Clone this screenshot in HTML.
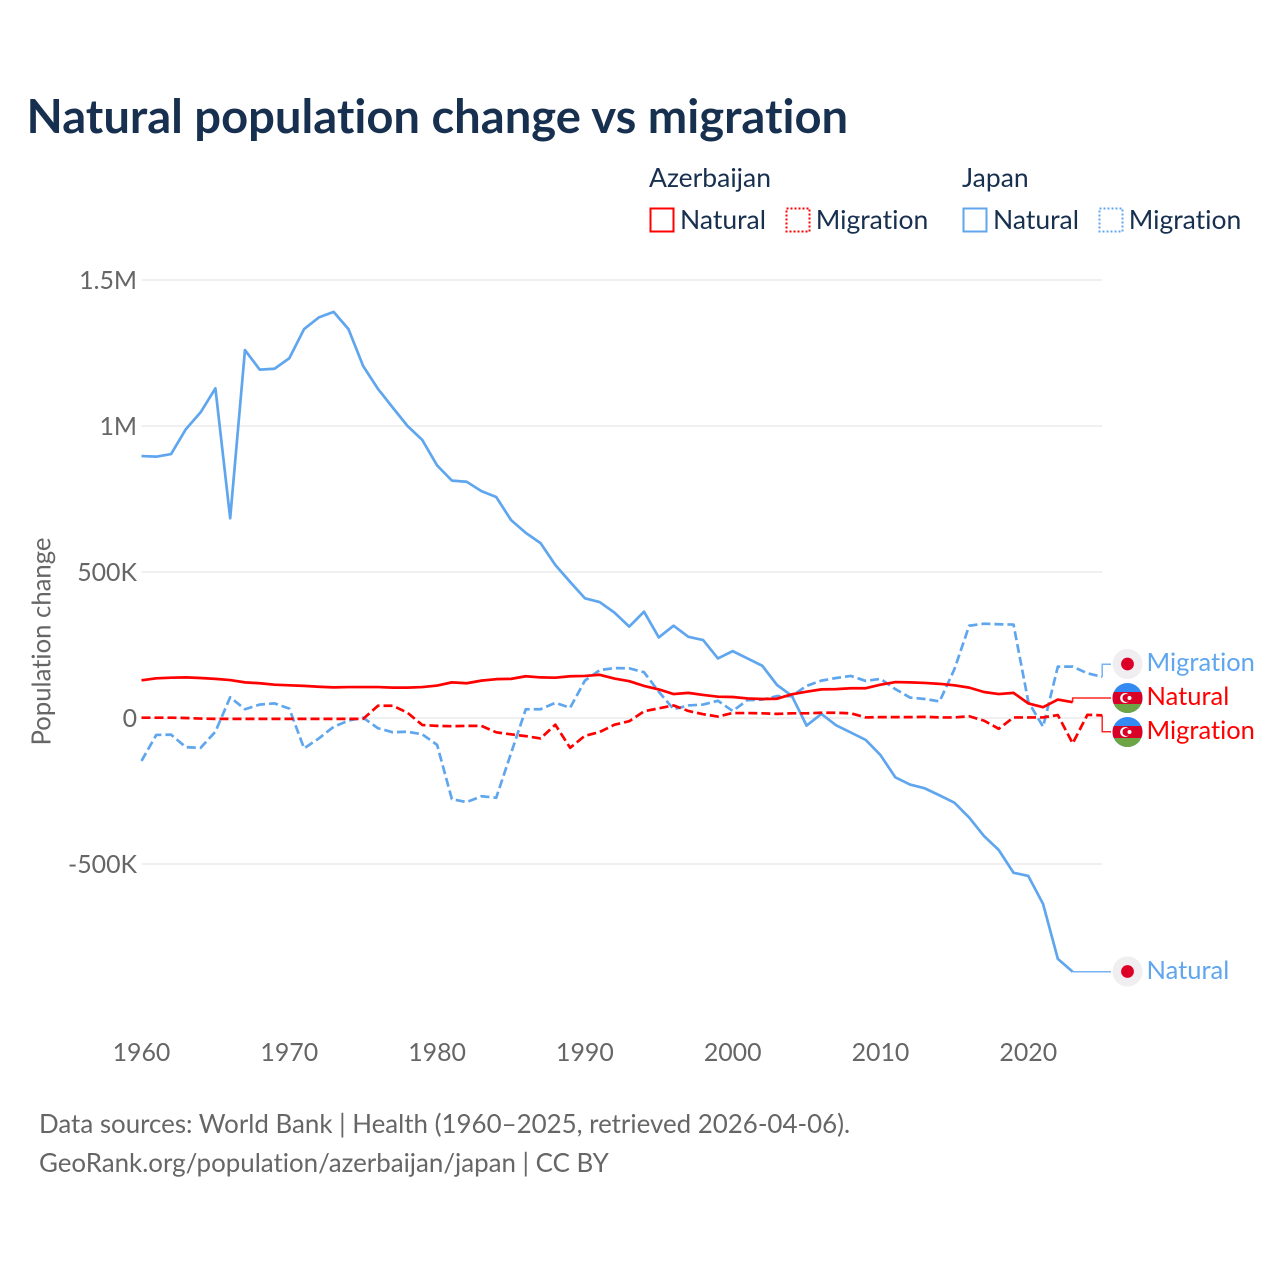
<!DOCTYPE html>
<html lang="en">
<head>
<meta charset="utf-8">
<title>Natural population change vs migration</title>
<style>
  html,body{margin:0;padding:0;background:#fff;}
  svg{display:block;}
  text{font-family:"Lato","Carlito","Liberation Sans",sans-serif;font-variant-ligatures:none;}
</style>
</head>
<body>
<svg id="chart" xmlns="http://www.w3.org/2000/svg" width="1280" height="1280" viewBox="0 0 1280 1280">
  <defs>
    <clipPath id="flag-clip"><circle cx="0" cy="0" r="15"/></clipPath>
  </defs>
  <rect x="0" y="0" width="1280" height="1280" fill="#ffffff"/>
  <text x="26.5" y="133" font-size="47.15" font-weight="700" fill="#18304f">Natural population change vs migration</text>

  <g font-size="26.5" fill="#18304f">
    <text x="649" y="187">Azerbaijan</text>
    <text x="962" y="187">Japan</text>
    <rect x="650.5" y="208.5" width="23" height="23" fill="none" stroke="#ff0000" stroke-width="2"/>
    <text x="680" y="229">Natural</text>
    <rect x="786.5" y="208.5" width="23" height="23" fill="none" stroke="#ff0000" stroke-width="2" stroke-dasharray="2 2"/>
    <text x="815.7" y="229">Migration</text>
    <rect x="963.5" y="208.5" width="23" height="23" fill="none" stroke="#5fa6ee" stroke-width="2"/>
    <text x="993" y="229">Natural</text>
    <rect x="1099.5" y="208.5" width="23" height="23" fill="none" stroke="#5fa6ee" stroke-width="2" stroke-dasharray="2 2"/>
    <text x="1128.7" y="229">Migration</text>
  </g>

  <text transform="translate(50.5,641.5) rotate(-90)" text-anchor="middle" font-size="25.7" fill="#666666">Population change</text>

  <g id="grid"></g>
  <g id="yticks" font-size="24.9" fill="#666666" text-anchor="end"></g>
  <g id="xticks" font-size="24.9" fill="#666666" text-anchor="middle"></g>
  <g id="connectors"></g>
  <g id="series"></g>

  <g transform="translate(1127.5,664)">
    <circle r="15" fill="#f0eef0"/><circle r="6.4" fill="#dc0027"/>
  </g>
  <g transform="translate(1127.5,698)" clip-path="url(#flag-clip)">
    <rect x="-15" y="-15" width="30" height="30" fill="#338af3"/>
    <rect x="-15" y="-6" width="30" height="12" fill="#d80027"/>
    <rect x="-15" y="6" width="30" height="9" fill="#6da544"/>
    <circle cx="-2.4" r="5" fill="#fff"/><circle cx="-1" r="4" fill="#d80027"/><circle cx="2" r="2" fill="#fff"/>
  </g>
  <g transform="translate(1127.5,732)" clip-path="url(#flag-clip)">
    <rect x="-15" y="-15" width="30" height="30" fill="#338af3"/>
    <rect x="-15" y="-6" width="30" height="12" fill="#d80027"/>
    <rect x="-15" y="6" width="30" height="9" fill="#6da544"/>
    <circle cx="-2.4" r="5" fill="#fff"/><circle cx="-1" r="4" fill="#d80027"/><circle cx="2" r="2" fill="#fff"/>
  </g>
  <g transform="translate(1127.5,971.5)">
    <circle r="15" fill="#f0eef0"/><circle r="6.4" fill="#dc0027"/>
  </g>

  <g font-size="25.5">
    <text x="1146.5" y="671" fill="#5fa6ee">Migration</text>
    <text x="1146.5" y="705" fill="#ff0000">Natural</text>
    <text x="1146.5" y="739" fill="#ff0000">Migration</text>
    <text x="1146.5" y="979" fill="#5fa6ee">Natural</text>
  </g>

  <g font-size="25.9" fill="#666666">
    <text x="39" y="1133">Data sources: World Bank | Health (1960–2025, retrieved 2026-04-06).</text>
    <text x="39" y="1172">GeoRank.org/population/azerbaijan/japan | CC BY</text>
  </g>
</svg>
<script>
// Values in thousands of people; the first year is 1960.
const startYear = 1960;
const yTickValues = [1500, 1000, 500, 0, -500];
const yTickLabels = ["1.5M", "1M", "500K", "0", "-500K"];
const xTickValues = [1960, 1970, 1980, 1990, 2000, 2010, 2020];
const japanNatural = [897,895,904,989,1047,1129,684,1260,1193,1196,1232,1332,1372,1391,1332,1205,1127,1063,1000,952,865,813,809,777,757,678,634,599,524,466,410,397,361,313,364,276,316,278,267,204,229,204,179,113,76,-26,14,-25,-50,-75,-127,-203,-228,-241,-265,-290,-341,-404,-452,-530,-541,-637,-825,-869];
const japanMigration = [-147,-58,-57,-100,-102,-47,71,30,46,50,32,-104,-70,-30,-9,1,-35,-49,-47,-56,-92,-278,-288,-268,-273,-121,30,30,52,35,128,164,171,170,157,90,30,43,46,59,24,61,63,75,75,110,128,137,144,127,134,99,70,65,57,167,316,323,321,320,56,-30,176,176,153,141];
const azerbaijanNatural = [129,136,138,139,137,134,130,122,119,114,112,110,107,105,106,106,106,104,104,106,111,122,119,128,133,134,143,139,138,143,144,148,135,126,110,98,82,86,79,73,72,67,65,66,81,90,98,99,102,102,114,123,122,120,117,112,104,89,82,86,50,37,63,54];
const azerbaijanMigration = [1,1,1,0,-2,-3,-3,-3,-3,-3,-3,-3,-3,-3,-3,-3,42,42,18,-24,-27,-28,-27,-27,-49,-56,-62,-70,-23,-102,-61,-48,-23,-11,23,33,43,24,13,5,17,17,16,14,16,16,18,18,16,2,3,3,3,4,2,2,6,-9,-37,2,2,2,10,-87,11,9];

const NS = "http://www.w3.org/2000/svg";
const BLUE = "#5fa6ee";
const RED = "#ff0000";
const xScale = function (year) { return 141.5 + (year - 1960) * 14.78; };
const yScale = function (v) { return 718 - v * 0.292; };

function make(tag, parent) {
  const el = document.createElementNS(NS, tag);
  document.getElementById(parent).appendChild(el);
  return el;
}

yTickValues.forEach(function (v, i) {
  const line = make("line", "grid");
  
  
  line.setAttribute("x1", xScale(1960));
  line.setAttribute("x2", xScale(2025));
  line.setAttribute("y1", yScale(v));
  line.setAttribute("y2", yScale(v));
  line.setAttribute("stroke", "#e7e7e7");
  line.setAttribute("stroke-width", "1.2");
  const label = make("text", "yticks");
  
  
  label.setAttribute("x", 137);
  label.setAttribute("y", yScale(v) + 9);
  label.textContent = yTickLabels[i];
});

xTickValues.forEach(function (year) {
  const label = make("text", "xticks");
  
  
  label.setAttribute("x", xScale(year));
  label.setAttribute("y", 1061);
  label.textContent = String(year);
});

function linePoints(values) {
  return values.map(function (v, i) {
    return xScale(startYear + i).toFixed(2) + "," + yScale(v).toFixed(2);
  }).join(" ");
}

function drawSeries(values, color, dashed, name) {
  const line = make("polyline", "series");
  
  
  line.setAttribute("data-series", name);
  line.setAttribute("points", linePoints(values));
  line.setAttribute("fill", "none");
  line.setAttribute("stroke", color);
  line.setAttribute("stroke-width", "2.7");
  line.setAttribute("stroke-linejoin", "round");
  if (dashed) { line.setAttribute("stroke-dasharray", "9 4"); }
}

function drawConnector(values, color, labelY) {
  const last = values.length - 1;
  const x = xScale(startYear + last);
  const y = yScale(values[last]);
  const path = make("path", "connectors");
  
  
  path.setAttribute("d", "M" + x + " " + y + "V" + labelY + "H1111");
  path.setAttribute("fill", "none");
  path.setAttribute("stroke", color);
  path.setAttribute("stroke-width", "1.5");
  path.setAttribute("stroke-opacity", "0.85");
}

drawConnector(japanNatural, BLUE, 971.7);
drawConnector(japanMigration, BLUE, 664.3);
drawConnector(azerbaijanNatural, RED, 698);
drawConnector(azerbaijanMigration, RED, 731.7);

drawSeries(japanNatural, BLUE, false, "japan-natural");
drawSeries(japanMigration, BLUE, true, "japan-migration");
drawSeries(azerbaijanNatural, RED, false, "azerbaijan-natural");
drawSeries(azerbaijanMigration, RED, true, "azerbaijan-migration");
</script>
</body>
</html>
